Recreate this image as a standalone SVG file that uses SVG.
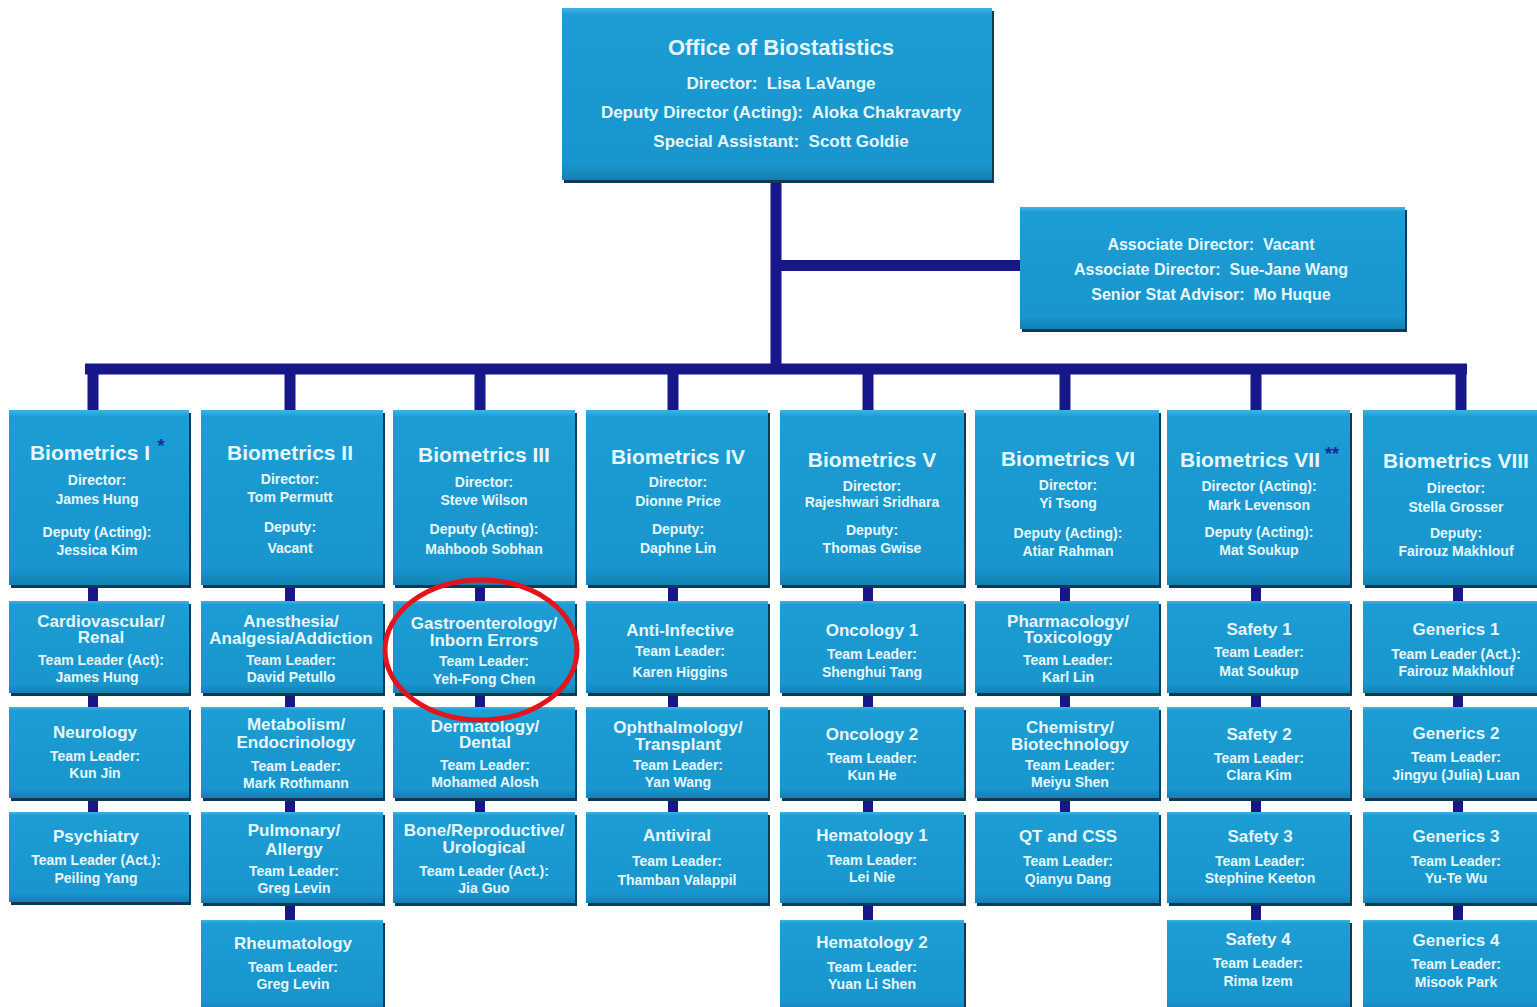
<svg xmlns="http://www.w3.org/2000/svg" width="1537" height="1007" viewBox="0 0 1537 1007">
<defs>
<linearGradient id="bg" x1="0" y1="0" x2="0" y2="1">
<stop offset="0" stop-color="#3fb3e2"/>
<stop offset="0.04" stop-color="#1c9dd4"/>
<stop offset="0.9" stop-color="#1896cd"/>
<stop offset="1" stop-color="#1580b2"/>
</linearGradient>
</defs>
<style>
.sh{fill:#0d3a55}
.bx{fill:url(#bg)}
text{font-family:"Liberation Sans",Arial,sans-serif;font-weight:bold;fill:#e6f7ff;text-anchor:middle;white-space:pre}
.t0{font-size:22px}
.t1{font-size:17px}
.ta{font-size:16px}
.th{font-size:21px}
.tr{font-size:17px}
.ts{font-size:14px}
.ast{fill:#1a2a9a;font-size:18px}
.cn{stroke:#17178a;stroke-width:11;fill:none}
.cs{stroke:#17178a;stroke-width:10;fill:none}
</style>
<rect width="1537" height="1007" fill="#ffffff"/>

<g id="connectors">
<path class="cn" d="M776 180 V370 M776 265.5 H1022 M85 369 H1467"/>
<path class="cn" d="M93 369 V412 M290 369 V412 M480 369 V412 M673 369 V412 M868 369 V412 M1065 369 V412 M1256 369 V412 M1461 369 V412"/>
<path class="cs" d="M93 585 V603 M290 585 V603 M480 585 V603 M673 585 V603 M868 585 V603 M1065 585 V603 M1256 585 V603 M1458 585 V603"/>
<path class="cs" d="M93 694 V709 M290 694 V709 M480 694 V709 M673 694 V709 M868 694 V709 M1065 694 V709 M1256 694 V709 M1458 694 V709"/>
<path class="cs" d="M93 799 V814 M290 799 V814 M480 799 V814 M673 799 V814 M868 799 V814 M1065 799 V814 M1256 799 V814 M1458 799 V814"/>
<path class="cs" d="M290 904 V920 M868 904 V920 M1256 904 V920 M1458 904 V920"/>
</g>

<g id="office">
<rect class="sh" x="564" y="11" width="430" height="172"/>
<rect class="bx" x="562" y="8" width="430" height="172"/>
<text class="t0" x="781" y="55">Office of Biostatistics</text>
<text class="t1" x="781" y="89" xml:space="preserve">Director:  Lisa LaVange</text>
<text class="t1" x="781" y="118" xml:space="preserve">Deputy Director (Acting):  Aloka Chakravarty</text>
<text class="t1" x="781" y="147" xml:space="preserve">Special Assistant:  Scott Goldie</text>
</g>

<g id="associate">
<rect class="sh" x="1022" y="210" width="385" height="122"/>
<rect class="bx" x="1020" y="207" width="385" height="122"/>
<text class="ta" x="1211" y="250" xml:space="preserve">Associate Director:  Vacant</text>
<text class="ta" x="1211" y="275" xml:space="preserve">Associate Director:  Sue-Jane Wang</text>
<text class="ta" x="1211" y="300" xml:space="preserve">Senior Stat Advisor:  Mo Huque</text>
</g>

<!-- Header row -->
<g id="bio1">
<rect class="sh" x="11" y="413" width="180" height="175"/>
<rect class="bx" x="9" y="410" width="180" height="175"/>
<text class="th" x="90" y="460">Biometrics I</text>
<text class="ast" x="161" y="452">*</text>
<text class="ts" x="97" y="485">Director:</text>
<text class="ts" x="97" y="504">James Hung</text>
<text class="ts" x="97" y="537">Deputy (Acting):</text>
<text class="ts" x="97" y="555">Jessica Kim</text>
</g>
<g id="bio2">
<rect class="sh" x="203" y="413" width="182" height="175"/>
<rect class="bx" x="201" y="410" width="182" height="175"/>
<text class="th" x="290" y="460">Biometrics II</text>
<text class="ts" x="290" y="484">Director:</text>
<text class="ts" x="290" y="502">Tom Permutt</text>
<text class="ts" x="290" y="532">Deputy:</text>
<text class="ts" x="290" y="553">Vacant</text>
</g>
<g id="bio3">
<rect class="sh" x="395" y="413" width="182" height="175"/>
<rect class="bx" x="393" y="410" width="182" height="175"/>
<text class="th" x="484" y="462">Biometrics III</text>
<text class="ts" x="484" y="487">Director:</text>
<text class="ts" x="484" y="505">Steve Wilson</text>
<text class="ts" x="484" y="534">Deputy (Acting):</text>
<text class="ts" x="484" y="554">Mahboob Sobhan</text>
</g>
<g id="bio4">
<rect class="sh" x="588" y="413" width="182" height="175"/>
<rect class="bx" x="586" y="410" width="182" height="175"/>
<text class="th" x="678" y="464">Biometrics IV</text>
<text class="ts" x="678" y="487">Director:</text>
<text class="ts" x="678" y="506">Dionne Price</text>
<text class="ts" x="678" y="534">Deputy:</text>
<text class="ts" x="678" y="553">Daphne Lin</text>
</g>
<g id="bio5">
<rect class="sh" x="782" y="413" width="184" height="175"/>
<rect class="bx" x="780" y="410" width="184" height="175"/>
<text class="th" x="872" y="467">Biometrics V</text>
<text class="ts" x="872" y="491">Director:</text>
<text class="ts" x="872" y="507">Rajeshwari Sridhara</text>
<text class="ts" x="872" y="535">Deputy:</text>
<text class="ts" x="872" y="553">Thomas Gwise</text>
</g>
<g id="bio6">
<rect class="sh" x="977" y="413" width="184" height="175"/>
<rect class="bx" x="975" y="410" width="184" height="175"/>
<text class="th" x="1068" y="466">Biometrics VI</text>
<text class="ts" x="1068" y="490">Director:</text>
<text class="ts" x="1068" y="508">Yi Tsong</text>
<text class="ts" x="1068" y="538">Deputy (Acting):</text>
<text class="ts" x="1068" y="556">Atiar Rahman</text>
</g>
<g id="bio7">
<rect class="sh" x="1169" y="413" width="183" height="175"/>
<rect class="bx" x="1167" y="410" width="183" height="175"/>
<text class="th" x="1250" y="467">Biometrics VII</text>
<text class="ast" x="1332" y="460">**</text>
<text class="ts" x="1259" y="491">Director (Acting):</text>
<text class="ts" x="1259" y="510">Mark Levenson</text>
<text class="ts" x="1259" y="537">Deputy (Acting):</text>
<text class="ts" x="1259" y="555">Mat Soukup</text>
</g>
<g id="bio8">
<rect class="sh" x="1365" y="413" width="186" height="175"/>
<rect class="bx" x="1363" y="410" width="186" height="175"/>
<text class="th" x="1456" y="468">Biometrics VIII</text>
<text class="ts" x="1456" y="493">Director:</text>
<text class="ts" x="1456" y="512">Stella Grosser</text>
<text class="ts" x="1456" y="538">Deputy:</text>
<text class="ts" x="1456" y="556">Fairouz Makhlouf</text>
</g>

<!-- Row 2 -->
<g id="cardio">
<rect class="sh" x="11" y="604" width="180" height="92"/>
<rect class="bx" x="9" y="601" width="180" height="92"/>
<text class="tr" x="101" y="627">Cardiovascular/</text>
<text class="tr" x="101" y="643">Renal</text>
<text class="ts" x="101" y="665">Team Leader (Act):</text>
<text class="ts" x="97" y="682">James Hung</text>
</g>
<g id="anesthesia">
<rect class="sh" x="203" y="604" width="182" height="92"/>
<rect class="bx" x="201" y="601" width="182" height="92"/>
<text class="tr" x="291" y="627">Anesthesia/</text>
<text class="tr" x="291" y="644">Analgesia/Addiction</text>
<text class="ts" x="291" y="665">Team Leader:</text>
<text class="ts" x="291" y="682">David Petullo</text>
</g>
<g id="gastro">
<rect class="sh" x="395" y="604" width="182" height="92"/>
<rect class="bx" x="393" y="601" width="182" height="92"/>
<text class="tr" x="484" y="629">Gastroenterology/</text>
<text class="tr" x="484" y="646">Inborn Errors</text>
<text class="ts" x="484" y="666">Team Leader:</text>
<text class="ts" x="484" y="684">Yeh-Fong Chen</text>
</g>
<g id="antiinf">
<rect class="sh" x="588" y="604" width="182" height="92"/>
<rect class="bx" x="586" y="601" width="182" height="92"/>
<text class="tr" x="680" y="636">Anti-Infective</text>
<text class="ts" x="680" y="656">Team Leader:</text>
<text class="ts" x="680" y="677">Karen Higgins</text>
</g>
<g id="onc1">
<rect class="sh" x="782" y="604" width="184" height="92"/>
<rect class="bx" x="780" y="601" width="184" height="92"/>
<text class="tr" x="872" y="636">Oncology 1</text>
<text class="ts" x="872" y="659">Team Leader:</text>
<text class="ts" x="872" y="677">Shenghui Tang</text>
</g>
<g id="pharm">
<rect class="sh" x="977" y="604" width="184" height="92"/>
<rect class="bx" x="975" y="601" width="184" height="92"/>
<text class="tr" x="1068" y="627">Pharmacology/</text>
<text class="tr" x="1068" y="643">Toxicology</text>
<text class="ts" x="1068" y="665">Team Leader:</text>
<text class="ts" x="1068" y="682">Karl Lin</text>
</g>
<g id="safety1">
<rect class="sh" x="1169" y="604" width="183" height="92"/>
<rect class="bx" x="1167" y="601" width="183" height="92"/>
<text class="tr" x="1259" y="635">Safety 1</text>
<text class="ts" x="1259" y="657">Team Leader:</text>
<text class="ts" x="1259" y="676">Mat Soukup</text>
</g>
<g id="gen1">
<rect class="sh" x="1365" y="604" width="186" height="92"/>
<rect class="bx" x="1363" y="601" width="186" height="92"/>
<text class="tr" x="1456" y="635">Generics 1</text>
<text class="ts" x="1456" y="659">Team Leader (Act.):</text>
<text class="ts" x="1456" y="676">Fairouz Makhlouf</text>
</g>

<!-- Row 3 -->
<g id="neuro">
<rect class="sh" x="11" y="710" width="180" height="91"/>
<rect class="bx" x="9" y="707" width="180" height="91"/>
<text class="tr" x="95" y="738">Neurology</text>
<text class="ts" x="95" y="761">Team Leader:</text>
<text class="ts" x="95" y="778">Kun Jin</text>
</g>
<g id="metab">
<rect class="sh" x="203" y="710" width="182" height="91"/>
<rect class="bx" x="201" y="707" width="182" height="91"/>
<text class="tr" x="296" y="730">Metabolism/</text>
<text class="tr" x="296" y="748">Endocrinology</text>
<text class="ts" x="296" y="771">Team Leader:</text>
<text class="ts" x="296" y="788">Mark Rothmann</text>
</g>
<g id="derm">
<rect class="sh" x="395" y="710" width="182" height="91"/>
<rect class="bx" x="393" y="707" width="182" height="91"/>
<text class="tr" x="485" y="732">Dermatology/</text>
<text class="tr" x="485" y="748">Dental</text>
<text class="ts" x="485" y="770">Team Leader:</text>
<text class="ts" x="485" y="787">Mohamed Alosh</text>
</g>
<g id="ophth">
<rect class="sh" x="588" y="710" width="182" height="91"/>
<rect class="bx" x="586" y="707" width="182" height="91"/>
<text class="tr" x="678" y="733">Ophthalmology/</text>
<text class="tr" x="678" y="750">Transplant</text>
<text class="ts" x="678" y="770">Team Leader:</text>
<text class="ts" x="678" y="787">Yan Wang</text>
</g>
<g id="onc2">
<rect class="sh" x="782" y="710" width="184" height="91"/>
<rect class="bx" x="780" y="707" width="184" height="91"/>
<text class="tr" x="872" y="740">Oncology 2</text>
<text class="ts" x="872" y="763">Team Leader:</text>
<text class="ts" x="872" y="780">Kun He</text>
</g>
<g id="chem">
<rect class="sh" x="977" y="710" width="184" height="91"/>
<rect class="bx" x="975" y="707" width="184" height="91"/>
<text class="tr" x="1070" y="733">Chemistry/</text>
<text class="tr" x="1070" y="750">Biotechnology</text>
<text class="ts" x="1070" y="770">Team Leader:</text>
<text class="ts" x="1070" y="787">Meiyu Shen</text>
</g>
<g id="safety2">
<rect class="sh" x="1169" y="710" width="183" height="91"/>
<rect class="bx" x="1167" y="707" width="183" height="91"/>
<text class="tr" x="1259" y="740">Safety 2</text>
<text class="ts" x="1259" y="763">Team Leader:</text>
<text class="ts" x="1259" y="780">Clara Kim</text>
</g>
<g id="gen2">
<rect class="sh" x="1365" y="710" width="186" height="91"/>
<rect class="bx" x="1363" y="707" width="186" height="91"/>
<text class="tr" x="1456" y="739">Generics 2</text>
<text class="ts" x="1456" y="762">Team Leader:</text>
<text class="ts" x="1456" y="780">Jingyu (Julia) Luan</text>
</g>

<!-- Row 4 -->
<g id="psych">
<rect class="sh" x="11" y="815" width="180" height="90"/>
<rect class="bx" x="9" y="812" width="180" height="90"/>
<text class="tr" x="96" y="842">Psychiatry</text>
<text class="ts" x="96" y="865">Team Leader (Act.):</text>
<text class="ts" x="96" y="883">Peiling Yang</text>
</g>
<g id="pulm">
<rect class="sh" x="203" y="815" width="182" height="91"/>
<rect class="bx" x="201" y="812" width="182" height="91"/>
<text class="tr" x="294" y="836">Pulmonary/</text>
<text class="tr" x="294" y="855">Allergy</text>
<text class="ts" x="294" y="876">Team Leader:</text>
<text class="ts" x="294" y="893">Greg Levin</text>
</g>
<g id="bone">
<rect class="sh" x="395" y="815" width="182" height="91"/>
<rect class="bx" x="393" y="812" width="182" height="91"/>
<text class="tr" x="484" y="836">Bone/Reproductive/</text>
<text class="tr" x="484" y="853">Urological</text>
<text class="ts" x="484" y="876">Team Leader (Act.):</text>
<text class="ts" x="484" y="893">Jia Guo</text>
</g>
<g id="antiviral">
<rect class="sh" x="588" y="815" width="182" height="91"/>
<rect class="bx" x="586" y="812" width="182" height="91"/>
<text class="tr" x="677" y="841">Antiviral</text>
<text class="ts" x="677" y="866">Team Leader:</text>
<text class="ts" x="677" y="885">Thamban Valappil</text>
</g>
<g id="hem1">
<rect class="sh" x="782" y="815" width="184" height="91"/>
<rect class="bx" x="780" y="812" width="184" height="91"/>
<text class="tr" x="872" y="841">Hematology 1</text>
<text class="ts" x="872" y="865">Team Leader:</text>
<text class="ts" x="872" y="882">Lei Nie</text>
</g>
<g id="qt">
<rect class="sh" x="977" y="815" width="184" height="91"/>
<rect class="bx" x="975" y="812" width="184" height="91"/>
<text class="tr" x="1068" y="842">QT and CSS</text>
<text class="ts" x="1068" y="866">Team Leader:</text>
<text class="ts" x="1068" y="884">Qianyu Dang</text>
</g>
<g id="safety3">
<rect class="sh" x="1169" y="815" width="183" height="91"/>
<rect class="bx" x="1167" y="812" width="183" height="91"/>
<text class="tr" x="1260" y="842">Safety 3</text>
<text class="ts" x="1260" y="866">Team Leader:</text>
<text class="ts" x="1260" y="883">Stephine Keeton</text>
</g>
<g id="gen3">
<rect class="sh" x="1365" y="815" width="186" height="91"/>
<rect class="bx" x="1363" y="812" width="186" height="91"/>
<text class="tr" x="1456" y="842">Generics 3</text>
<text class="ts" x="1456" y="866">Team Leader:</text>
<text class="ts" x="1456" y="883">Yu-Te Wu</text>
</g>

<!-- Row 5 -->
<g id="rheum">
<rect class="sh" x="203" y="923" width="182" height="90"/>
<rect class="bx" x="201" y="920" width="182" height="90"/>
<text class="tr" x="293" y="949">Rheumatology</text>
<text class="ts" x="293" y="972">Team Leader:</text>
<text class="ts" x="293" y="989">Greg Levin</text>
</g>
<g id="hem2">
<rect class="sh" x="782" y="923" width="184" height="90"/>
<rect class="bx" x="780" y="920" width="184" height="90"/>
<text class="tr" x="872" y="948">Hematology 2</text>
<text class="ts" x="872" y="972">Team Leader:</text>
<text class="ts" x="872" y="989">Yuan Li Shen</text>
</g>
<g id="safety4">
<rect class="sh" x="1169" y="923" width="183" height="90"/>
<rect class="bx" x="1167" y="920" width="183" height="90"/>
<text class="tr" x="1258" y="945">Safety 4</text>
<text class="ts" x="1258" y="968">Team Leader:</text>
<text class="ts" x="1258" y="986">Rima Izem</text>
</g>
<g id="gen4">
<rect class="sh" x="1365" y="923" width="186" height="90"/>
<rect class="bx" x="1363" y="920" width="186" height="90"/>
<text class="tr" x="1456" y="946">Generics 4</text>
<text class="ts" x="1456" y="969">Team Leader:</text>
<text class="ts" x="1456" y="987">Misook Park</text>
</g>

<ellipse id="highlight" cx="481" cy="650" rx="96" ry="70" fill="none" stroke="#e3141c" stroke-width="5"/>
</svg>
